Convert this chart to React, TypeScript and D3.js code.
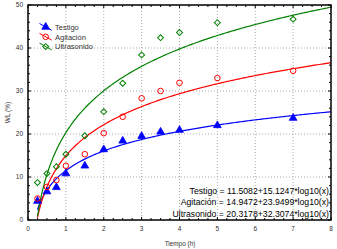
import React from "react";
import * as d3 from "d3";

const time = [0.25, 0.5, 0.75, 1, 1.5, 2, 2.5, 3, 3.5, 4, 5, 7];
const testigo = [4.4, 6.6, 7.6, 10.8, 12.6, 16.4, 18.4, 19.5, 20.5, 20.9, 22.0, 23.7];
const agitacion = [5.0, 7.7, 9.3, 12.6, 15.3, 20.2, 24.0, 28.3, 30.0, 31.9, 33.0, 34.7];
const ultrasonido = [8.7, 10.8, 12.4, 15.3, 19.6, 25.2, 31.8, 38.4, 42.4, 43.6, 45.9, 46.7];

const seriesNames = ["Testigo", "Agitación", "Ultrasonido"];
const fitA = [11.5082, 14.9472, 20.3178];
const fitB = [15.1247, 23.9499, 32.3074];
const equations = [
  "Testigo = 11.5082+15.1247*log10(x)",
  "Agitación = 14.9472+23.9499*log10(x)",
  "Ultrasonido = 20.3178+32.3074*log10(x)",
];
const xTicks = [0, 1, 2, 3, 4, 5, 6, 7, 8];
const yTicks = [0, 10, 20, 30, 40, 50];
const colors = ["#0000ff", "#ff0000", "#008000"];

export default function App() {
  const W = 337, H = 249;
  const L = 28, R = 331, T = 5, B = 220;
  const x = d3.scaleLinear().domain([0, 8]).range([L, R]);
  const y = d3.scaleLinear().domain([0, 50]).range([B, T]);
  const data = [testigo, agitacion, ultrasonido];

  const fitX = d3.range(0, 200).map((i) => 0.25 + (i * (8 - 0.25)) / 199);

  const curve = (k: number) =>
    d3
      .line<number>()
      .x((d) => x(d))
      .y((d) => y(Math.max(fitA[k] + fitB[k] * Math.log10(d), 0)))(fitX) || "";

  const xMinor = d3.range(0, 8.001, 0.25);
  const yMinor = d3.range(0, 50.001, 2);

  const marker = (k: number, cx: number, cy: number, key: string) => {
    if (k === 0) {
      const p = d3.symbol().type(d3.symbolTriangle).size(26)() || "";
      return <path key={key} d={p} transform={`translate(${cx},${cy})`} fill={colors[0]} stroke={colors[0]} strokeWidth={0.8} />;
    } else if (k === 1) {
      return <circle key={key} cx={cx} cy={cy} r={2.8} fill="none" stroke={colors[1]} strokeWidth={1} />;
    } else {
      return (
        <rect key={key} x={cx - 2.1} y={cy - 2.1} width={4.2} height={4.2} fill="none" stroke={colors[2]} strokeWidth={1}
          transform={`rotate(45 ${cx} ${cy})`} />
      );
    }
  };

  const font = "Liberation Sans, Arial, sans-serif";

  return (
    <svg width={W} height={H} style={{ position: "absolute", left: 0, top: 0, background: "#fff" }} fontFamily={font}>
      <rect x={0} y={0} width={W} height={H} fill="#fff" />
      <defs>
        <clipPath id="pa">
          <rect x={L} y={T} width={R - L} height={B - T} />
        </clipPath>
      </defs>
      {xTicks.slice(1, -1).map((t) => (
        <line key={"gx" + t} x1={x(t)} x2={x(t)} y1={T} y2={B} stroke="#aaa" strokeWidth={1} strokeDasharray="1,2" />
      ))}
      {yTicks.slice(1, -1).map((t) => (
        <line key={"gy" + t} x1={L} x2={R} y1={y(t)} y2={y(t)} stroke="#aaa" strokeWidth={1} strokeDasharray="1,2" />
      ))}
      <g clipPath="url(#pa)">
        {[0, 1, 2].map((k) => (
          <path key={"c" + k} d={curve(k)} fill="none" stroke={colors[k]} strokeWidth={1.2} />
        ))}
      </g>
      {data.map((s, k) => s.map((v, i) => marker(k, x(time[i]), y(v), `m${k}-${i}`)))}
      {xMinor.map((t, i) => {
        const len = i % 4 === 0 ? 3 : 2;
        return (
          <g key={"xt" + i}>
            <line x1={x(t)} x2={x(t)} y1={B} y2={B - len} stroke="#000" strokeWidth={1} />
            <line x1={x(t)} x2={x(t)} y1={T} y2={T + len} stroke="#000" strokeWidth={1} />
          </g>
        );
      })}
      {yMinor.map((t, i) => {
        const len = i % 5 === 0 ? 3 : 2;
        return (
          <g key={"yt" + i}>
            <line x1={L} x2={L + len} y1={y(t)} y2={y(t)} stroke="#000" strokeWidth={1} />
            <line x1={R} x2={R - len} y1={y(t)} y2={y(t)} stroke="#000" strokeWidth={1} />
          </g>
        );
      })}
      <rect x={L} y={T} width={R - L} height={B - T} fill="none" stroke="#000" strokeWidth={1.5} />
      {xTicks.map((t) => (
        <text key={"xl" + t} x={x(t)} y={230.5} fontSize={6.5} textAnchor="middle" fill="#333">{t}</text>
      ))}
      {yTicks.map((t) => (
        <text key={"yl" + t} x={23} y={y(t) + 2.3} fontSize={6.5} textAnchor="end" fill="#333">{t}</text>
      ))}
      <text x={(L + R) / 2 + 0.5} y={245.5} fontSize={6.4} textAnchor="middle" fill="#333">Tiempo (h)</text>
      <text transform={`translate(10,${(T + B) / 2}) rotate(-90)`} fontSize={6.5} textAnchor="middle" fill="#333">WL (%)</text>
      {seriesNames.map((n, k) => {
        const yy = 27 + k * 9.8;
        return (
          <g key={"lg" + k}>
            <line x1={39.5} y1={yy - 3.5} x2={51.7} y2={yy + 3.3} stroke={colors[k]} strokeWidth={1} />
            {marker(k, 45.7, yy, "lm" + k)}
            <text x={55} y={yy + 2.7} fontSize={7.5} fill="#333">{n}</text>
          </g>
        );
      })}
      {equations.map((e, k) => (
        <text key={"eq" + k} x={329} y={193.5 + k * 11.5} fontSize={8.7} textAnchor="end" fill="#000">{e}</text>
      ))}
    </svg>
  );
}
